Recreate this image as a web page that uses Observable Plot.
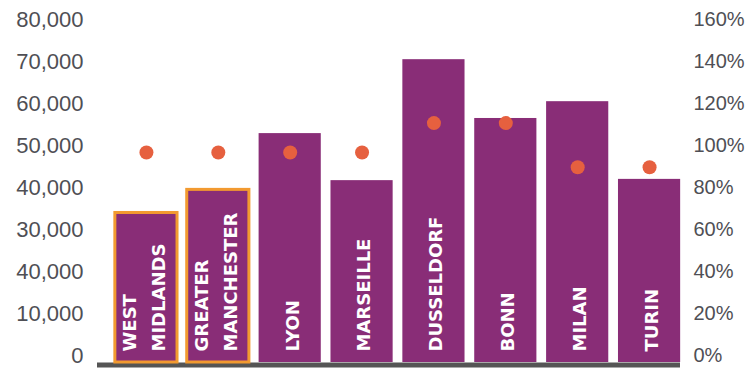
<!DOCTYPE html>
<html>
<head>
<meta charset="utf-8">
<script src="https://cdn.jsdelivr.net/npm/d3@7"></script>
<script src="https://cdn.jsdelivr.net/npm/@observablehq/plot@0.6"></script>
<style>
  html, body { margin: 0; padding: 0; background: #ffffff; }
  #chart { width: 751px; height: 369px; }
</style>
</head>
<body>
<div id="chart"></div>
<script>
// Data
const cities = ["WEST\nMIDLANDS", "GREATER\nMANCHESTER", "LYON", "MARSEILLE", "DUSSELDORF", "BONN", "MILAN", "TURIN"];
const values = [35600, 41100, 54500, 43300, 72100, 58100, 62100, 43600];
const percents = [100, 100, 100, 100, 114, 114, 93, 93];
const highlighted = [true, true, false, false, false, false, false, false];

// Tick labels (as printed in the original, including its repeated "40,000")
const leftTicks = [0, 10000, 20000, 30000, 40000, 50000, 60000, 70000, 80000];
const leftLabels = ["0", "10,000", "40,000", "30,000", "40,000", "50,000", "60,000", "70,000", "80,000"];
const rightTicks = [0, 20, 40, 60, 80, 100, 120, 140, 160];
const rightLabels = ["0%", "20%", "40%", "60%", "80%", "100%", "120%", "140%", "160%"];

const pctToY = 80000 / 160;

const data = cities.map((c, i) => ({
  city: c, value: values[i], pct: percents[i], hl: highlighted[i]
}));

const purple = "#892D77";
const orange = "#F29A30";
const dotColor = "#E6603F";
const textGray = "#4f4f55";

const labelStyle = {
  x: "city", y: () => 0, text: "city",
  rotate: -90, textAnchor: "start", lineAnchor: "middle", lineHeight: 1.62,
  fill: "#ffffff", fontSize: 18, fontWeight: "bold",
  fontFamily: "'DejaVu Sans', sans-serif", dy: -11
};

const chart = Plot.plot({
  width: 751,
  height: 369,
  marginTop: 26,
  marginBottom: 7,
  marginLeft: 110,
  marginRight: 66,
  style: { background: "#ffffff", fontFamily: "'Liberation Sans', Arial, sans-serif", overflow: "visible" },
  x: { domain: cities, paddingInner: 0.135, paddingOuter: 0.0675, round: false, axis: null },
  y: { domain: [0, 80000], axis: null },
  marks: [
    Plot.ruleY([0], { stroke: "#555555", strokeWidth: 5, dy: 2.5, insetLeft: -13, insetRight: 5 }),
    Plot.barY(data, { x: "city", y: "value", fill: purple }),
    Plot.barY(data.filter(d => d.hl), { x: "city", y: "value", fill: purple, stroke: orange, strokeWidth: 3 }),
    Plot.text(data.filter(d => d.city.includes("\n")), { ...labelStyle, dx: -5 }),
    Plot.text(data.filter(d => !d.city.includes("\n")), { ...labelStyle, dx: -1 }),
    Plot.dot(data, { x: "city", y: d => d.pct * pctToY, r: 7, fill: dotColor, stroke: "none" }),
    Plot.axisY({
      anchor: "left", ticks: leftTicks, tickSize: 0, tickPadding: 27,
      tickFormat: d => leftLabels[leftTicks.indexOf(d)],
      fontSize: 22, color: textGray, dy: -7, label: null
    }),
    Plot.axisY({
      anchor: "right", ticks: rightTicks.map(p => p * pctToY), tickSize: 0, tickPadding: 8,
      tickFormat: d => rightLabels[rightTicks.indexOf(d / pctToY)],
      fontSize: 20, color: textGray, dy: -7, label: null
    })
  ]
});
document.getElementById("chart").appendChild(chart);
</script>
</body>
</html>
